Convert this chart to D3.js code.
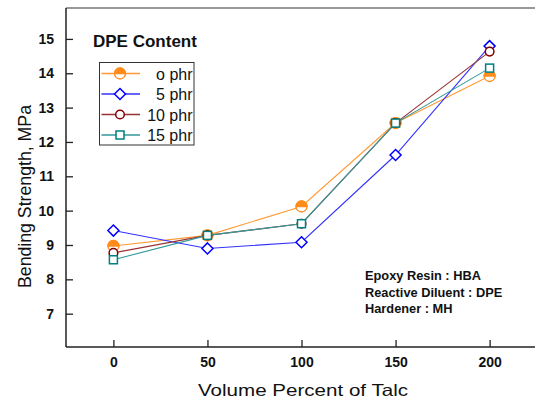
<!DOCTYPE html>
<html><head><meta charset="utf-8">
<script src="https://cdn.jsdelivr.net/npm/d3@7"></script>
<style>body{margin:0;background:#fff}svg{display:block}text{font-family:Arial,"Liberation Sans",sans-serif}</style>
</head><body>
<svg id="c" width="535" height="400"></svg>
<script>
const xValues = [0, 50, 100, 150, 200];
const xTicks = [0, 50, 100, 150, 200];
const yTicks = [7, 8, 9, 10, 11, 12, 13, 14, 15];
const seriesNames = ["o phr", "5 phr", "10 phr", "15 phr"];
const phr0  = [8.97, 9.28, 10.12, 12.55, 13.92];
const phr5  = [9.42, 8.90, 9.08, 11.62, 14.79];
const phr10 = [8.77, 9.28, 9.62, 12.55, 14.63];
const phr15 = [8.57, 9.28, 9.62, 12.55, 14.15];
const colors = ["#ff8c1a", "#0000ff", "#800000", "#008080"];
const lineColors = ["#ff9933", "#3333ff", "#993333", "#339999"];
const markers = ["halfcircle", "diamond", "circle", "square"];
const notes = ["Epoxy Resin : HBA", "Reactive Diluent : DPE", "Hardener : MH"];

const svg = d3.select("#c");
const L = 66, T = 8, R = 535, B = 347;
const x = d3.scaleLinear().domain([-25.2, 222.0]).range([L, 531]);
const y = d3.scaleLinear().domain([6.03, 15.9]).range([B, T]);

// frame
svg.append("line").attr("x1", L).attr("x2", R).attr("y1", T).attr("y2", T).attr("stroke", "#777").attr("stroke-width", 1.5);

const yAxis = svg.append("g").attr("transform", `translate(${L},0)`)
  .call(d3.axisLeft(y).tickValues(yTicks).tickSize(-7).tickPadding(12).tickFormat(d3.format("d")));
yAxis.select(".domain").remove();
yAxis.selectAll(".tick line").attr("stroke", "#222").attr("stroke-width", 1.3);
yAxis.selectAll("text").attr("font-size", 14).attr("font-weight", "bold").attr("fill", "#111");

const xAxis = svg.append("g").attr("transform", `translate(0,${B})`)
  .call(d3.axisBottom(x).tickValues(xTicks).tickSize(-7).tickPadding(10).tickFormat(d3.format("d")));
xAxis.select(".domain").remove();
xAxis.selectAll(".tick line").attr("stroke", "#222").attr("stroke-width", 1.3);
xAxis.selectAll("text").attr("font-size", 14).attr("font-weight", "bold").attr("fill", "#111");

svg.append("line").attr("x1", L).attr("x2", L).attr("y1", T).attr("y2", B).attr("stroke", "#222").attr("stroke-width", 1.5);
svg.append("line").attr("x1", L).attr("x2", R).attr("y1", B).attr("y2", B).attr("stroke", "#222").attr("stroke-width", 1.5);

svg.append("text").attr("transform", `translate(31,196.5) rotate(-90)`).attr("text-anchor", "middle")
  .attr("font-size", 17.5).attr("fill", "#111").attr("textLength", 183).attr("lengthAdjust", "spacingAndGlyphs")
  .text("Bending Strength, MPa");
svg.append("text").attr("x", 303).attr("y", 395.5).attr("text-anchor", "middle")
  .attr("font-size", 16.5).attr("fill", "#111").attr("textLength", 210).attr("lengthAdjust", "spacingAndGlyphs")
  .text("Volume Percent of Talc");

function drawMarker(g, type, cx, cy, col) {
  if (type === "halfcircle") {
    const r = 5.5;
    g.append("circle").attr("cx", cx).attr("cy", cy).attr("r", r).attr("fill", "#fff").attr("stroke", col).attr("stroke-width", 1.3);
    g.append("path").attr("d", `M${cx - r},${cy} A${r},${r} 0 0 1 ${cx + r},${cy} Z`).attr("fill", col).attr("stroke", col).attr("stroke-width", 1.3);
  } else if (type === "diamond") {
    const s = 5.5;
    g.append("path").attr("d", `M${cx},${cy - s} L${cx + s},${cy} L${cx},${cy + s} L${cx - s},${cy} Z`).attr("fill", "#fff").attr("stroke", col).attr("stroke-width", 1.5);
  } else if (type === "circle") {
    g.append("circle").attr("cx", cx).attr("cy", cy).attr("r", 4.3).attr("fill", "#fff").attr("stroke", col).attr("stroke-width", 1.5);
  } else {
    const s = 4;
    g.append("rect").attr("x", cx - s).attr("y", cy - s).attr("width", 2*s).attr("height", 2*s).attr("fill", "#fff").attr("stroke", col).attr("stroke-width", 1.5);
  }
}

const allSeries = [phr0, phr5, phr10, phr15];
const line = d3.line().x((d, i) => x(xValues[i])).y(d => y(d));
allSeries.forEach((vals, k) => {
  const g = svg.append("g");
  g.append("path").datum(vals).attr("d", line).attr("fill", "none").attr("stroke", lineColors[k]).attr("stroke-width", 1.1);
  vals.forEach((v, i) => drawMarker(g, markers[k], x(xValues[i]), y(v), colors[k]));
});

// legend
svg.append("text").attr("x", 93).attr("y", 46.5).attr("font-size", 17).attr("font-weight", "bold").attr("fill", "#111").text("DPE Content");
const lg = svg.append("g");
lg.append("rect").attr("x", 99.5).attr("y", 62.5).attr("width", 94.5).attr("height", 82.5).attr("fill", "#fff").attr("stroke", "#333").attr("stroke-width", 1);
seriesNames.forEach((name, k) => {
  const cy = 73.5 + k * 20.5;
  lg.append("line").attr("x1", 101.5).attr("x2", 140).attr("y1", cy).attr("y2", cy).attr("stroke", lineColors[k]).attr("stroke-width", 1.3);
  drawMarker(lg, markers[k], 120, cy, colors[k]);
  lg.append("text").attr("x", 192.5).attr("y", cy + 6).attr("text-anchor", "end").attr("font-size", 16).attr("fill", "#111").text(name);
});

notes.forEach((t, i) => {
  svg.append("text").attr("x", 365).attr("y", 280 + i * 16.5).attr("font-size", 12.8).attr("font-weight", "bold").attr("fill", "#111").text(t);
});
</script>
</body></html>
